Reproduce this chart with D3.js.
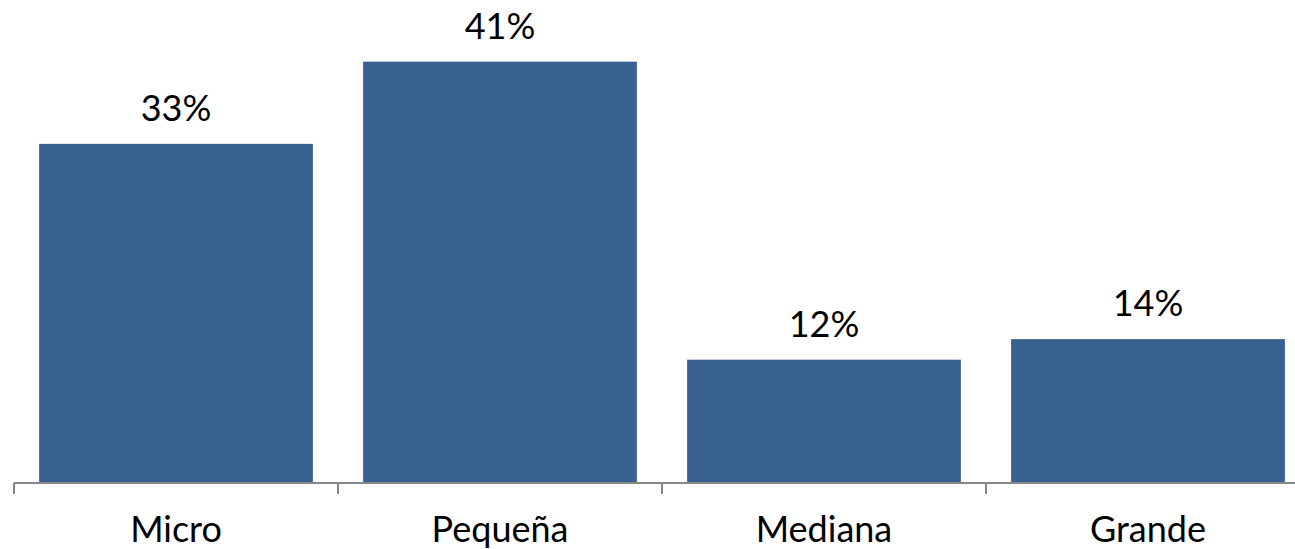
<!DOCTYPE html>
<html><head><meta charset="utf-8">
<script src="https://cdn.jsdelivr.net/npm/d3@7"></script>
<style>html,body{margin:0;padding:0;background:#fff;}svg{display:block;}</style>
</head><body>
<svg id="c" width="1295" height="549"></svg>
<script>
const categories = ["Micro", "Pequeña", "Mediana", "Grande"];
const values = [33, 41, 12, 14];
const valueLabels = ["33%", "41%", "12%", "14%"];

const svg = d3.select("#c");
const font = "Lato, 'Open Sans', sans-serif";
const x = d3.scaleBand().domain(categories).range([14, 1310]).padding(0);
const y = d3.scaleLinear().domain([0, 47]).range([483, 0]);
const inset = x.bandwidth() * 0.0775;

svg.selectAll("rect.bar").data(categories).enter().append("rect")
  .attr("class", "bar")
  .attr("x", d => x(d) + inset)
  .attr("width", x.bandwidth() - 2 * inset)
  .attr("y", (d, i) => y(values[i]))
  .attr("height", (d, i) => y(0) - y(values[i]))
  .attr("fill", "#386192");

svg.selectAll("text.val").data(categories).enter().append("text")
  .attr("class", "val")
  .attr("x", d => x(d) + x.bandwidth() / 2)
  .attr("y", (d, i) => y(values[i]) - 23)
  .attr("text-anchor", "middle")
  .attr("font-family", font)
  .attr("font-size", 36)
  .attr("fill", "#000")
  .text((d, i) => valueLabels[i]);

const ax = svg.append("g").attr("transform", `translate(0,${y(0)})`)
  .call(d3.axisBottom(x).tickSize(0).tickPadding(0));
ax.select(".domain").remove();
ax.selectAll("text").attr("font-family", font).attr("font-size", 36).attr("fill", "#000")
  .attr("dy", null).attr("y", 59);

const g = svg.append("g");
g.append("line").attr("x1", 14).attr("x2", 1310).attr("y1", y(0)).attr("y2", y(0))
  .attr("stroke", "#878787").attr("stroke-width", 2);
g.selectAll("line.tick").data(categories).enter().append("line")
  .attr("class", "tick")
  .attr("x1", d => x(d)).attr("x2", d => x(d))
  .attr("y1", y(0)).attr("y2", y(0) + 11)
  .attr("stroke", "#878787").attr("stroke-width", 2);
</script>
</body></html>
